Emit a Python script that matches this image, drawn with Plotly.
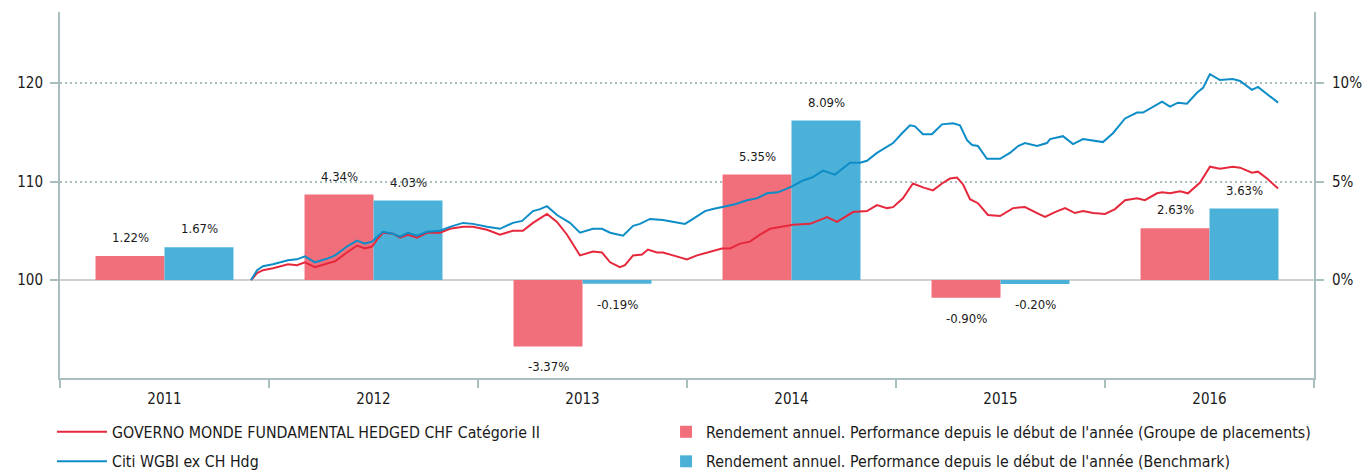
import plotly.graph_objects as go

# ---------------- data ----------------
years = ["2011", "2012", "2013", "2014", "2015", "2016"]
fund_annual = [1.22, 4.34, -3.37, 5.35, -0.90, 2.63]
bench_annual = [1.67, 4.03, -0.19, 8.09, -0.20, 3.63]

fund_name = "GOVERNO MONDE FUNDAMENTAL HEDGED CHF Catégorie II"
bench_name = "Citi WGBI ex CH Hdg"
fund_bar_name = "Rendement annuel. Performance depuis le début de l'année (Groupe de placements)"
bench_bar_name = "Rendement annuel. Performance depuis le début de l'année (Benchmark)"

# time in years since start of 2011
fund_t = [0.914, 0.943, 0.971, 1.019, 1.091, 1.134, 1.172, 1.220, 1.282, 1.316,
          1.373, 1.421, 1.459, 1.493, 1.517, 1.545, 1.593, 1.627, 1.665, 1.708,
          1.756, 1.818, 1.866, 1.928, 1.976, 2.043, 2.105, 2.167, 2.215, 2.263,
          2.330, 2.378, 2.426, 2.488, 2.550, 2.593, 2.632, 2.679, 2.703, 2.742,
          2.785, 2.813, 2.856, 2.885, 2.933, 3.000, 3.048, 3.110, 3.167, 3.206,
          3.254, 3.301, 3.349, 3.397, 3.445, 3.507, 3.589, 3.670, 3.718, 3.794,
          3.861, 3.909, 3.957, 3.986, 4.033, 4.081, 4.129, 4.177, 4.220, 4.258,
          4.292, 4.321, 4.354, 4.392, 4.440, 4.498, 4.560, 4.617, 4.675, 4.713,
          4.761, 4.809, 4.856, 4.895, 4.943, 5.000, 5.048, 5.096, 5.153, 5.191,
          5.249, 5.273, 5.311, 5.359, 5.397, 5.455, 5.502, 5.550, 5.612, 5.646,
          5.703, 5.732, 5.775, 5.828]
fund_idx = [100.0, 100.7, 101.0, 101.2, 101.6, 101.5, 101.8, 101.3, 101.7, 101.9,
            102.8, 103.5, 103.2, 103.4, 104.1, 104.8, 104.7, 104.3, 104.6, 104.3,
            104.8, 104.8, 105.2, 105.4, 105.4, 105.1, 104.6, 105.0, 105.0, 105.8,
            106.7, 105.9, 104.6, 102.5, 102.9, 102.8, 101.8, 101.3, 101.5, 102.5,
            102.6, 103.1, 102.8, 102.8, 102.5, 102.1, 102.5, 102.9, 103.2, 103.2,
            103.7, 103.9, 104.6, 105.2, 105.4, 105.6, 105.7, 106.4, 105.9, 106.9,
            107.0, 107.6, 107.3, 107.4, 108.3, 109.8, 109.4, 109.1, 109.8, 110.3,
            110.4, 109.7, 108.2, 107.8, 106.6, 106.5, 107.3, 107.4, 106.8, 106.4,
            106.9, 107.3, 106.8, 107.0, 106.8, 106.7, 107.2, 108.1, 108.3, 108.1,
            108.8, 108.9, 108.8, 109.0, 108.8, 109.9, 111.5, 111.3, 111.5, 111.4,
            110.9, 111.0, 110.3, 109.3]

bench_t = [0.914, 0.943, 0.971, 1.019, 1.091, 1.134, 1.172, 1.220, 1.282, 1.316,
           1.373, 1.421, 1.459, 1.493, 1.517, 1.545, 1.593, 1.627, 1.665, 1.708,
           1.756, 1.818, 1.866, 1.928, 1.976, 2.043, 2.105, 2.167, 2.211, 2.263,
           2.297, 2.330, 2.378, 2.440, 2.488, 2.550, 2.593, 2.632, 2.694, 2.742,
           2.775, 2.823, 2.885, 2.933, 2.990, 3.029, 3.086, 3.124, 3.182, 3.230,
           3.287, 3.335, 3.383, 3.435, 3.493, 3.555, 3.598, 3.651, 3.708, 3.780,
           3.828, 3.861, 3.909, 3.986, 4.029, 4.067, 4.091, 4.129, 4.172, 4.220,
           4.273, 4.306, 4.340, 4.364, 4.392, 4.435, 4.498, 4.545, 4.584, 4.617,
           4.675, 4.722, 4.737, 4.799, 4.847, 4.895, 4.990, 5.038, 5.096, 5.153,
           5.182, 5.230, 5.273, 5.311, 5.349, 5.392, 5.440, 5.469, 5.502, 5.550,
           5.612, 5.646, 5.703, 5.732, 5.775, 5.828]
bench_idx = [100.0, 101.0, 101.4, 101.6, 102.0, 102.1, 102.4, 101.8, 102.2, 102.5,
             103.4, 104.0, 103.7, 103.9, 104.4, 104.9, 104.7, 104.4, 104.8, 104.5,
             104.9, 105.0, 105.4, 105.8, 105.7, 105.4, 105.2, 105.8, 106.0, 107.0,
             107.2, 107.5, 106.6, 105.8, 104.8, 105.2, 105.2, 104.8, 104.5, 105.5,
             105.7, 106.2, 106.1, 105.9, 105.7, 106.2, 107.0, 107.2, 107.5, 107.7,
             108.1, 108.3, 108.8, 108.9, 109.4, 110.1, 110.4, 111.1, 110.7, 111.9,
             111.9, 112.1, 112.9, 113.9, 114.9, 115.7, 115.6, 114.8, 114.8, 115.8,
             115.9, 115.7, 114.2, 113.7, 113.6, 112.3, 112.3, 112.9, 113.6, 113.9,
             113.6, 113.9, 114.3, 114.6, 113.8, 114.3, 114.0, 114.9, 116.4, 117.0,
             117.0, 117.6, 118.1, 117.6, 118.0, 117.9, 119.0, 119.5, 120.9, 120.3,
             120.4, 120.2, 119.3, 119.6, 118.9, 118.0]

idx_ticks = [100, 110, 120]
pct_ticks = [0, 5, 10]
pct_labels = ["0%", "5%", "10%"]

# ---------------- style ----------------
FONT = "DejaVu Sans Condensed, DejaVu Sans, sans-serif"
RED_BAR = "#f16e7b"
BLUE_BAR = "#4cb1d8"
RED_LINE = "#e6283c"
BLUE_LINE = "#0c8dc7"
AX = "#a9bebe"
TXT = "#1a1a1a"
LEGEND_Y = 1 - 415 / 471   # container fraction of legend top

fig = go.Figure()

fig.add_trace(go.Bar(x=years, y=fund_annual, name=fund_bar_name, marker_color=RED_BAR,
                     marker_line_width=0, xaxis="x", yaxis="y", legend="legend2",
                     legendgroup="b1", hoverinfo="skip"))
fig.add_trace(go.Bar(x=years, y=bench_annual, name=bench_bar_name, marker_color=BLUE_BAR,
                     marker_line_width=0, xaxis="x", yaxis="y", legend="legend2",
                     legendgroup="b2", hoverinfo="skip"))

fig.add_trace(go.Scatter(x=fund_t, y=fund_idx, mode="lines", name=fund_name,
                         line=dict(color=RED_LINE, width=2), xaxis="x2", yaxis="y2",
                         legend="legend", legendgroup="l1"))
fig.add_trace(go.Scatter(x=bench_t, y=bench_idx, mode="lines", name=bench_name,
                         line=dict(color=BLUE_LINE, width=2), xaxis="x2", yaxis="y2",
                         legend="legend", legendgroup="l2"))

annotations = []
for series, shift in ((fund_annual, -34.5), (bench_annual, 34.5)):
    for i, v in enumerate(series):
        annotations.append(dict(
            x=i, y=v, xref="x", yref="y", text=f"{v:.2f}%", showarrow=False,
            xshift=shift, yshift=9 if v >= 0 else -11,
            xanchor="center", yanchor="bottom" if v >= 0 else "top",
            font=dict(family=FONT, size=13, color=TXT)))

fig.update_layout(
    width=1364, height=471,
    margin=dict(l=60, r=50, t=12, b=93),
    paper_bgcolor="white", plot_bgcolor="white",
    font=dict(family=FONT, size=15, color=TXT),
    barmode="group", bargap=0.34, bargroupgap=0,
    showlegend=True,
    xaxis=dict(type="category", range=[-0.5, 5.5], tickson="boundaries",
               ticks="outside", ticklen=8, tickwidth=2, tickcolor=AX,
               showline=True, linecolor=AX, linewidth=2, showgrid=False,
               zeroline=False, fixedrange=True, tickangle=0, tickfont=dict(size=15),
               ticklabelstandoff=6, anchor="y", automargin=False),
    xaxis2=dict(overlaying="x", range=[0, 6], visible=False, fixedrange=True,
                automargin=False),
    yaxis=dict(side="right", range=[-4.97, 13.6],
               tickvals=pct_ticks, ticktext=pct_labels,
               ticks="outside", ticklen=8, tickwidth=2, tickcolor=AX,
               showline=True, linecolor=AX, linewidth=2,
               showgrid=True, gridcolor=AX, gridwidth=1.5, griddash="2px,3px",
               zeroline=True, zerolinecolor="#cfcfcf", zerolinewidth=1.5,
               fixedrange=True, tickfont=dict(size=15), ticklabelstandoff=5,
               automargin=False),
    yaxis2=dict(side="left", overlaying="y", range=[90.06, 127.2], tickvals=idx_ticks,
                ticks="outside", ticklen=8, tickwidth=2, tickcolor=AX,
                showline=True, linecolor=AX, linewidth=2, showgrid=False,
                zeroline=False, fixedrange=True, tickfont=dict(size=15),
                ticklabelstandoff=4, automargin=False),
    legend=dict(xref="paper", yref="container", x=-0.0064, y=LEGEND_Y,
                xanchor="left", yanchor="top", orientation="v",
                traceorder="grouped", tracegroupgap=6, itemwidth=50,
                font=dict(family=FONT, size=15.8, color=TXT), bgcolor="rgba(0,0,0,0)"),
    legend2=dict(xref="paper", yref="container", x=0.4833, y=LEGEND_Y,
                 xanchor="left", yanchor="top", orientation="v",
                 traceorder="grouped", tracegroupgap=6,
                 font=dict(family=FONT, size=15.8, color=TXT), bgcolor="rgba(0,0,0,0)"),
    annotations=annotations,
)

fig.write_html("out.html")
